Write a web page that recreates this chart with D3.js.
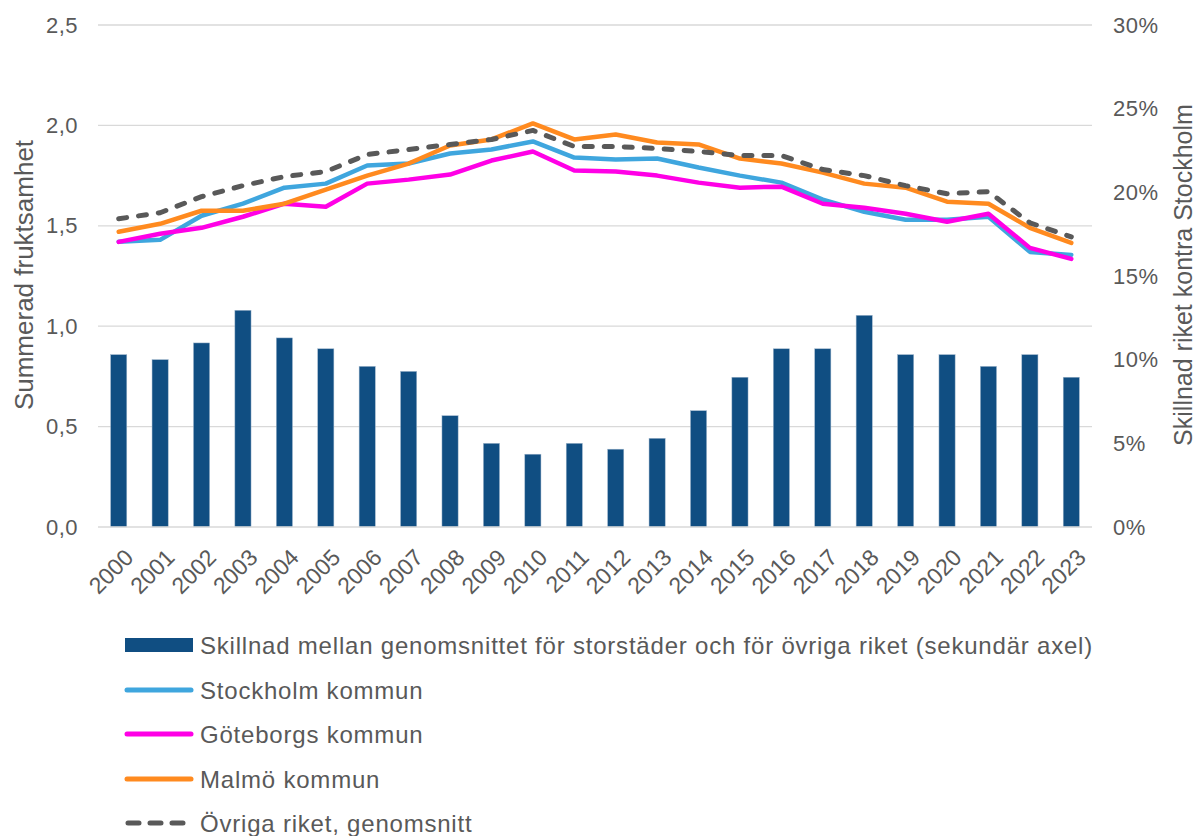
<!DOCTYPE html>
<html><head><meta charset="utf-8">
<script src="https://cdn.jsdelivr.net/npm/d3@7"></script>
<style>body{margin:0;background:#fff}svg{display:block}text{font-family:"Liberation Sans",Arial,sans-serif;fill:#595959}</style>
</head><body><svg id="c" width="1200" height="836"></svg>
<script>
const years = ["2000","2001","2002","2003","2004","2005","2006","2007","2008","2009","2010","2011","2012","2013","2014","2015","2016","2017","2018","2019","2020","2021","2022","2023"];
const diffPct = [10.3,10.0,11.0,12.95,11.3,10.65,9.6,9.3,6.65,5.0,4.35,5.0,4.65,5.3,6.95,8.95,10.65,10.65,12.65,10.3,10.3,9.6,10.3,8.95];
const stockholm = [1.42,1.43,1.55,1.61,1.69,1.71,1.80,1.81,1.86,1.88,1.92,1.84,1.83,1.835,1.79,1.75,1.715,1.63,1.57,1.53,1.53,1.545,1.37,1.355];
const goteborg = [1.42,1.46,1.49,1.545,1.61,1.595,1.71,1.73,1.755,1.825,1.87,1.775,1.77,1.75,1.715,1.69,1.695,1.61,1.59,1.56,1.52,1.56,1.39,1.335];
const malmo = [1.47,1.51,1.575,1.575,1.61,1.68,1.75,1.81,1.90,1.93,2.01,1.93,1.955,1.915,1.905,1.835,1.81,1.765,1.71,1.69,1.62,1.61,1.49,1.415];
const ovriga = [1.535,1.565,1.645,1.70,1.745,1.77,1.855,1.88,1.905,1.93,1.975,1.895,1.895,1.885,1.87,1.85,1.85,1.78,1.75,1.70,1.66,1.67,1.515,1.445];
const leftTicks = [0,0.5,1.0,1.5,2.0,2.5];
const rightTicks = [0,5,10,15,20,25,30];
const legendLabels = ["Skillnad mellan genomsnittet för storstäder och för övriga riket (sekundär axel)","Stockholm kommun","Göteborgs kommun","Malmö kommun","Övriga riket, genomsnitt"];

const svg = d3.select("#c");
const L=98,R=1092,T=25,B=527;
const x = d3.scaleBand().domain(years).range([L,R]).paddingInner(0.61).paddingOuter(0.305);
const xc = d => x(d)+x.bandwidth()/2;
const y = d3.scaleLinear().domain([0,2.5]).range([B,T]);
const y2 = d3.scaleLinear().domain([0,30]).range([B,T]);

svg.append("g").selectAll("line").data(leftTicks.slice(1)).join("line")
  .attr("x1",L).attr("x2",R).attr("y1",d=>y(d)).attr("y2",d=>y(d))
  .attr("stroke","#d9d9d9").attr("stroke-width",1.3);

svg.append("g").selectAll("rect").data(diffPct).join("rect")
  .attr("x",(d,i)=>x(years[i])).attr("width",x.bandwidth())
  .attr("y",d=>y2(d)).attr("height",d=>B-y2(d))
  .attr("fill","#104E82").attr("stroke","#9fb6cc").attr("stroke-width",0.5);

svg.append("line").attr("x1",L).attr("x2",R).attr("y1",B).attr("y2",B).attr("stroke","#d9d9d9").attr("stroke-width",1.5);

const ga = svg.append("g").attr("transform",`translate(${L},0)`)
  .call(d3.axisLeft(y).tickValues(leftTicks).tickFormat(d=>d3.format(".1f")(d).replace(".",",")).tickSize(0).tickPadding(20));
ga.select(".domain").remove();
ga.selectAll("text").style("font-size","22px").style("letter-spacing","0.5px").attr("fill","#595959");

const gb = svg.append("g").attr("transform",`translate(${R},0)`)
  .call(d3.axisRight(y2).tickValues(rightTicks).tickFormat(d=>d+"%").tickSize(0).tickPadding(21));
gb.select(".domain").remove();
gb.selectAll("text").style("font-size","22px").style("letter-spacing","0.5px").attr("fill","#595959");

const gx = svg.append("g").attr("transform",`translate(0,${B})`)
  .call(d3.axisBottom(x).tickSize(0));
gx.select(".domain").remove();
gx.selectAll("text").style("font-size","23px").attr("fill","#595959")
  .attr("text-anchor","end").attr("dy",0).attr("y",0)
  .attr("transform","translate(16,32) rotate(-45)");

const line = arr => d3.line().x((d,i)=>xc(years[i])).y(d=>y(d))(arr);
const series = [
  {v:stockholm,c:"#3FA6DE"},
  {v:goteborg,c:"#FF00E6"},
  {v:malmo,c:"#FF8A1F"},
];
series.forEach(s=>svg.append("path").attr("d",line(s.v)).attr("fill","none").attr("stroke",s.c).attr("stroke-width",4.5).attr("stroke-linejoin","round").attr("stroke-linecap","round"));
svg.append("path").attr("d",line(ovriga)).attr("fill","none").attr("stroke","#595959").attr("stroke-width",5)
  .attr("stroke-dasharray","8,12").attr("stroke-linecap","round").attr("stroke-linejoin","round");

svg.append("text").attr("transform","translate(33,275) rotate(-90)").attr("text-anchor","middle").style("font-size","26px").text("Summerad fruktsamhet");
svg.append("text").attr("transform","translate(1192,275) rotate(-90)").attr("text-anchor","middle").style("font-size","25px").text("Skillnad riket kontra Stockholm");

const ly = [645,690,734,779,823];
const lg = svg.append("g");
lg.append("rect").attr("x",125).attr("y",ly[0]-7).attr("width",68).attr("height",14).attr("fill","#104E82");
const lcols = ["#3FA6DE","#FF00E6","#FF8A1F"];
lcols.forEach((c,i)=>lg.append("line").attr("x1",127).attr("x2",191).attr("y1",ly[i+1]).attr("y2",ly[i+1]).attr("stroke",c).attr("stroke-width",5).attr("stroke-linecap","round"));
lg.append("line").attr("x1",128).attr("x2",192).attr("y1",ly[4]).attr("y2",ly[4]).attr("stroke","#595959").attr("stroke-width",5).attr("stroke-dasharray","11,11").attr("stroke-linecap","round");
const lt = legendLabels.map((t,i)=>lg.append("text").attr("x",200).attr("y",ly[i]).attr("dy","0.36em").style("font-size","24px").text(t));
const nat = lt[0].node().getComputedTextLength();
const ls = (893 - nat)/legendLabels[0].length;
lt.forEach(t=>t.style("letter-spacing",ls+"px"));
</script></body></html>
